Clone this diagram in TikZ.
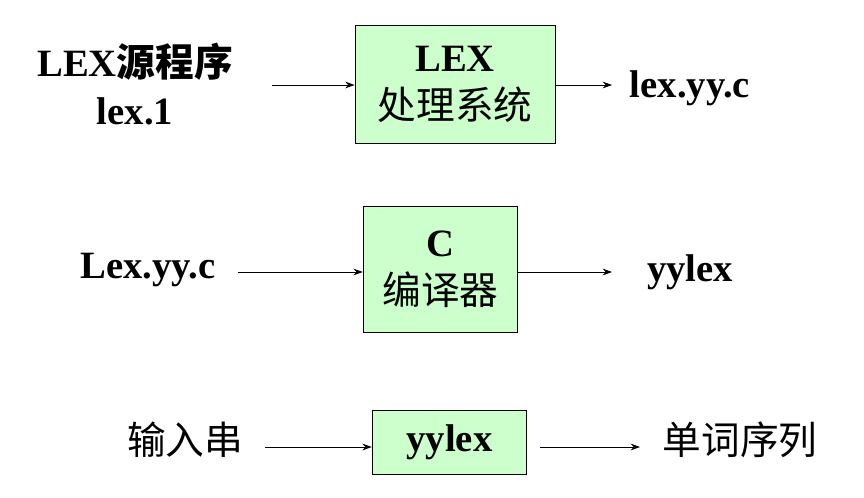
\documentclass[tikz,border=0pt]{standalone}
\usepackage{fontspec}
\setmainfont{Liberation Serif}
\newfontfamily\cjk{Noto Sans CJK SC}
\usetikzlibrary{arrows.meta}
\begin{document}
\begin{tikzpicture}[x=0.75pt,y=-0.75pt]
\tikzset{box/.style={draw=black,fill=green!20,line width=0.6pt,align=center,inner sep=0pt,
    font=\fontsize{29}{36}\selectfont\bfseries},
  lbl/.style={font=\fontsize{29}{36}\selectfont\bfseries,align=center,inner sep=0pt},
  flow/.style={-{Stealth[length=7pt,width=5pt]},line width=0.6pt}}
\useasboundingbox (0,0) rectangle (864,497);
% row 1
\node[box,minimum width=150pt,minimum height=88.5pt] (lexbox) at (455,84)
  {LEX\\{\cjk\mdseries 处理系统}};
\node[lbl] (lexsrc) at (135,84) {LEX{\cjk 源程序}\\lex.1};
\node[lbl] (lexout) at (690,88) {lex.yy.c};
\coordinate (a1) at (272,85);
\coordinate (a2) at (612,85);
\draw[flow] (a1) -- (lexbox.west |- a1);
\draw[flow] (lexbox.east |- a2) -- (a2);
% row 2
\node[box,minimum width=116pt,minimum height=94pt] (cbox) at (440.5,269.5)
  {C\\{\cjk\mdseries 编译器}};
\node[lbl] (lexyy) at (148,270) {Lex.yy.c};
\node[lbl] (yyout) at (690,272) {yylex};
\coordinate (b1) at (238,272);
\coordinate (b2) at (612,272);
\draw[flow] (b1) -- (cbox.west |- b1);
\draw[flow] (cbox.east |- b2) -- (b2);
% row 3
\node[box,minimum width=116pt,minimum height=48pt] (ybox) at (449.5,442) {yylex};
\node[lbl,font=\fontsize{29}{36}\selectfont\cjk] (instr) at (185,440) {输入串};
\node[lbl,font=\fontsize{29}{36}\selectfont\cjk] (words) at (740,440) {单词序列};
\coordinate (c1) at (265,447);
\coordinate (c2) at (640,447);
\coordinate (c0) at (540,447);
\draw[flow] (c1) -- (ybox.west |- c1);
\draw[flow] (c0) -- (c2);
\end{tikzpicture}
\end{document}
